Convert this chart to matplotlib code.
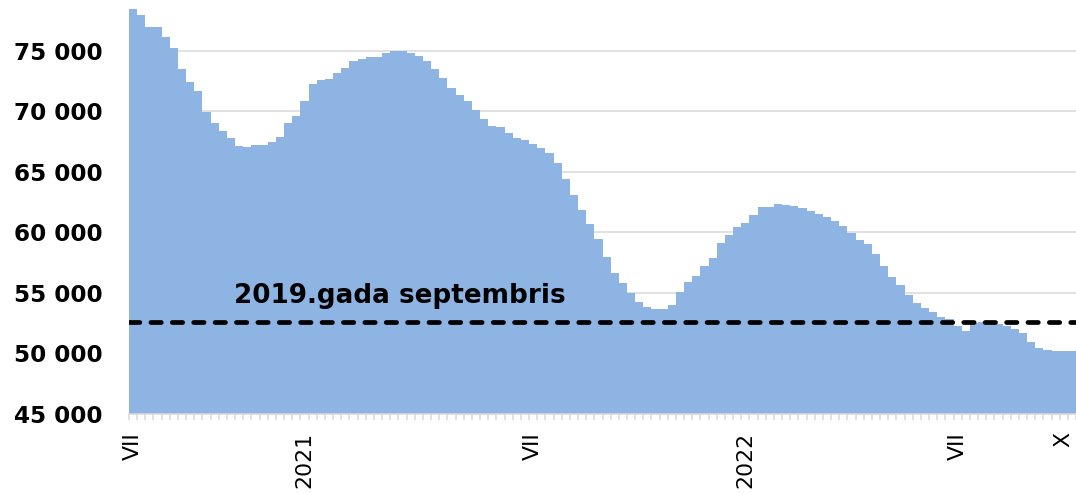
import numpy as np
import matplotlib
matplotlib.use('Agg')
import matplotlib.pyplot as plt
import matplotlib.ticker as ticker

# weekly values (July 2020 - October 2022)
values = [
    78450, 77970, 76980, 76980, 76130, 75200, 73490, 72410, 71670, 69960,
    69050, 68360, 67760, 67150, 67070, 67180, 67180, 67430, 67870, 69020,
    69580, 70840, 72220, 72580, 72620, 73130, 73570, 74120, 74290, 74450,
    74480, 74780, 75000, 74970, 74780, 74540, 74120, 73490, 72720, 71890,
    71360, 70840, 70100, 69350, 68780, 68690, 68170, 67780, 67590, 67260,
    66940, 66520, 65690, 64370, 63060, 61830, 60650, 59460, 57930, 56600,
    55830, 55000, 54260, 53790, 53650, 53650, 53980, 55060, 55860, 56400,
    57230, 57850, 59090, 59770, 60390, 60740, 61420, 62110, 62110, 62300,
    62250, 62190, 62020, 61780, 61500, 61280, 60950, 60540, 59960, 59380,
    59000, 58200, 57210, 56270, 55640, 54810, 54120, 53710, 53430, 53020,
    52830, 52250, 51860, 52520, 52580, 52540, 52410, 52250, 51970, 51640,
    50930, 50450, 50260, 50180, 50180, 50180,
]
label_pos = [0, 21, 49, 75, 101, 114]
label_text = ['VII', '2021', 'VII', '2022', 'VII', 'X']
ref_level = 52580
ref_label = '2019.gada septembris'
y_ticks = [45000, 50000, 55000, 60000, 65000, 70000, 75000]

bar_color = '#8EB4E3'
grid_color = '#D9D9D9'

fig = plt.figure(figsize=(10.76, 4.94), dpi=100)
ax = fig.add_axes([129 / 1076, 80.3 / 494, 1 - 129 / 1076, 1 - 80.3 / 494])

# columns with no gap, drawn as one stepped fill so no seams appear
edges = np.arange(len(values) + 1) - 0.5
ax.stairs(values, edges, baseline=45000, fill=True, color=bar_color, zorder=2)

ax.set_xlim(-0.5, len(values) - 0.5)
ax.set_ylim(45000, 79190)

# grid and axes
ax.set_yticks(y_ticks)
ax.yaxis.set_major_formatter(ticker.FuncFormatter(lambda v, p: f'{int(v):,}'.replace(',', ' ')))
ax.grid(axis='y', color=grid_color, linewidth=1.1, zorder=0)
ax.set_axisbelow(True)
for s in ['top', 'right', 'left']:
    ax.spines[s].set_visible(False)
ax.spines['bottom'].set_color(grid_color)
ax.spines['bottom'].set_linewidth(1.1)
ax.spines['bottom'].set_zorder(3)

ax.tick_params(axis='y', length=0, pad=19, labelsize=16.7)
for lab in ax.get_yticklabels():
    lab.set_fontweight('bold')

ax.set_xticks(label_pos)
ax.set_xticklabels(label_text, rotation=90, fontsize=15.8)
ax.tick_params(axis='x', which='major', length=0, pad=13)
ax.set_xticks(np.arange(-0.5, len(values)), minor=True)
ax.tick_params(axis='x', which='minor', length=4.3, width=1.1, color=grid_color)

# reference line
ax.axhline(ref_level, color='black', linewidth=3.4, linestyle=(0, (2.2, 2.33)),
           dash_capstyle='round', zorder=4)
ax.text(12.35, 54124, ref_label, fontsize=18.9, fontweight='bold',
        va='baseline', ha='left', zorder=5)

fig.savefig('out.png', dpi=100)
